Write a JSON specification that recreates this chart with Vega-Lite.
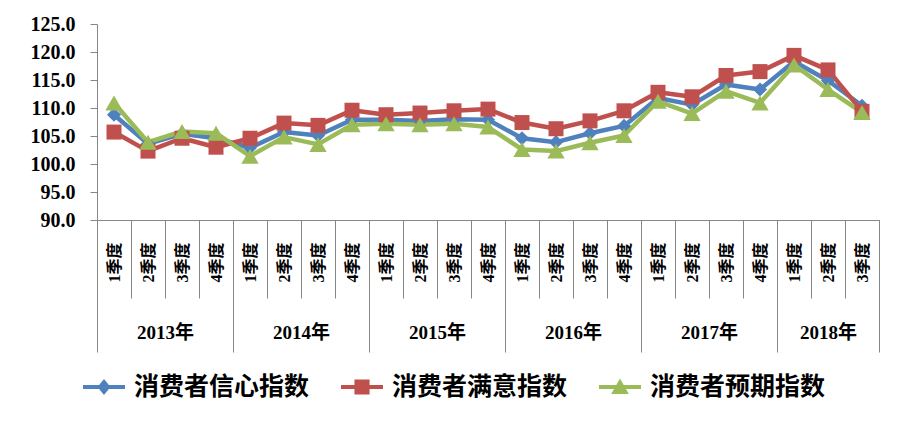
{
  "$schema": "https://vega.github.io/schema/vega-lite/v6.json",
  "width": 782,
  "height": 196,
  "autosize": {"type": "none"},
  "padding": {"left": 97, "top": 24, "right": 25, "bottom": 201},
  "background": "white",
  "config": {"view": {"stroke": null}},
  "datasets": {
    "idx": [
      {"q": "2013-1", "s": "消费者信心指数", "v": 108.8}, {"q": "2013-2", "s": "消费者信心指数", "v": 103.6}, {"q": "2013-3", "s": "消费者信心指数", "v": 105.4}, {"q": "2013-4", "s": "消费者信心指数", "v": 104.6},
      {"q": "2014-1", "s": "消费者信心指数", "v": 102.9}, {"q": "2014-2", "s": "消费者信心指数", "v": 105.7}, {"q": "2014-3", "s": "消费者信心指数", "v": 105.1}, {"q": "2014-4", "s": "消费者信心指数", "v": 107.9},
      {"q": "2015-1", "s": "消费者信心指数", "v": 107.9}, {"q": "2015-2", "s": "消费者信心指数", "v": 107.7}, {"q": "2015-3", "s": "消费者信心指数", "v": 108.0}, {"q": "2015-4", "s": "消费者信心指数", "v": 107.9},
      {"q": "2016-1", "s": "消费者信心指数", "v": 104.6}, {"q": "2016-2", "s": "消费者信心指数", "v": 103.9}, {"q": "2016-3", "s": "消费者信心指数", "v": 105.5}, {"q": "2016-4", "s": "消费者信心指数", "v": 106.8},
      {"q": "2017-1", "s": "消费者信心指数", "v": 111.8}, {"q": "2017-2", "s": "消费者信心指数", "v": 110.6}, {"q": "2017-3", "s": "消费者信心指数", "v": 114.2}, {"q": "2017-4", "s": "消费者信心指数", "v": 113.3},
      {"q": "2018-1", "s": "消费者信心指数", "v": 118.3}, {"q": "2018-2", "s": "消费者信心指数", "v": 114.9}, {"q": "2018-3", "s": "消费者信心指数", "v": 110.4},
      {"q": "2013-1", "s": "消费者满意指数", "v": 105.7}, {"q": "2013-2", "s": "消费者满意指数", "v": 102.3}, {"q": "2013-3", "s": "消费者满意指数", "v": 104.6}, {"q": "2013-4", "s": "消费者满意指数", "v": 103.0},
      {"q": "2014-1", "s": "消费者满意指数", "v": 104.6}, {"q": "2014-2", "s": "消费者满意指数", "v": 107.3}, {"q": "2014-3", "s": "消费者满意指数", "v": 106.9}, {"q": "2014-4", "s": "消费者满意指数", "v": 109.6},
      {"q": "2015-1", "s": "消费者满意指数", "v": 108.8}, {"q": "2015-2", "s": "消费者满意指数", "v": 109.1}, {"q": "2015-3", "s": "消费者满意指数", "v": 109.5}, {"q": "2015-4", "s": "消费者满意指数", "v": 109.8},
      {"q": "2016-1", "s": "消费者满意指数", "v": 107.4}, {"q": "2016-2", "s": "消费者满意指数", "v": 106.3}, {"q": "2016-3", "s": "消费者满意指数", "v": 107.7}, {"q": "2016-4", "s": "消费者满意指数", "v": 109.5},
      {"q": "2017-1", "s": "消费者满意指数", "v": 112.8}, {"q": "2017-2", "s": "消费者满意指数", "v": 112.0}, {"q": "2017-3", "s": "消费者满意指数", "v": 115.8}, {"q": "2017-4", "s": "消费者满意指数", "v": 116.5},
      {"q": "2018-1", "s": "消费者满意指数", "v": 119.4}, {"q": "2018-2", "s": "消费者满意指数", "v": 116.8}, {"q": "2018-3", "s": "消费者满意指数", "v": 109.4},
      {"q": "2013-1", "s": "消费者预期指数", "v": 110.9}, {"q": "2013-2", "s": "消费者预期指数", "v": 103.9}, {"q": "2013-3", "s": "消费者预期指数", "v": 105.8}, {"q": "2013-4", "s": "消费者预期指数", "v": 105.5},
      {"q": "2014-1", "s": "消费者预期指数", "v": 101.4}, {"q": "2014-2", "s": "消费者预期指数", "v": 104.8}, {"q": "2014-3", "s": "消费者预期指数", "v": 103.5}, {"q": "2014-4", "s": "消费者预期指数", "v": 107.0},
      {"q": "2015-1", "s": "消费者预期指数", "v": 107.2}, {"q": "2015-2", "s": "消费者预期指数", "v": 107.0}, {"q": "2015-3", "s": "消费者预期指数", "v": 107.2}, {"q": "2015-4", "s": "消费者预期指数", "v": 106.6},
      {"q": "2016-1", "s": "消费者预期指数", "v": 102.6}, {"q": "2016-2", "s": "消费者预期指数", "v": 102.3}, {"q": "2016-3", "s": "消费者预期指数", "v": 103.8}, {"q": "2016-4", "s": "消费者预期指数", "v": 105.1},
      {"q": "2017-1", "s": "消费者预期指数", "v": 111.2}, {"q": "2017-2", "s": "消费者预期指数", "v": 109.0}, {"q": "2017-3", "s": "消费者预期指数", "v": 113.0}, {"q": "2017-4", "s": "消费者预期指数", "v": 110.9},
      {"q": "2018-1", "s": "消费者预期指数", "v": 117.7}, {"q": "2018-2", "s": "消费者预期指数", "v": 113.3}, {"q": "2018-3", "s": "消费者预期指数", "v": 109.2}
    ]
  },
  "data": {"name": "idx"},
  "encoding": {
    "y": {
      "field": "v", "type": "quantitative",
      "scale": {"domain": [90, 125], "nice": false, "zero": false},
      "axis": {
        "title": null, "values": [90, 95, 100, 105, 110, 115, 120, 125], "format": ".1f", "grid": false,
        "labelOverlap": false, "labelBound": false, "ticks": true,
        "domainColor": "#868686", "tickColor": "#868686", "tickSize": 7, "labelPadding": 15,
        "labelFont": "Liberation Serif", "labelFontSize": 20, "labelFontWeight": "bold", "labelColor": "black"
      }
    }
  },
  "layer": [
    {
      "mark": {"type": "line", "strokeWidth": 4.5, "strokeJoin": "round"},
      "encoding": {
        "x": {
          "field": "q", "type": "ordinal",
          "scale": {"type": "band", "paddingInner": 0, "paddingOuter": 0},
          "axis": {
            "orient": "bottom", "title": null,
            "tickBand": "extent", "tickSize": 78, "tickColor": "#868686", "tickWidth": 1,
            "domainColor": "#868686", "domainWidth": 1,
            "labelAngle": 270, "labelAlign": "center", "labelBaseline": "middle",
            "labelPadding": -36, "labelOverlap": false, "labelBound": false,
            "labelExpr": "isString(datum.value) ? substring(datum.value, 5) + '季度' : ''",
            "labelFont": "Liberation Serif, Noto Sans CJK SC", "labelFontSize": 16, "labelFontWeight": "bold", "labelColor": "black"
          }
        },
        "color": {
          "field": "s", "type": "nominal",
          "scale": {"domain": ["消费者信心指数", "消费者满意指数", "消费者预期指数"], "range": ["#4F81BD", "#C0504D", "#9BBB59"]},
          "legend": {
            "orient": "none", "legendX": -14, "legendY": 342, "direction": "horizontal", "title": null, "padding": 0,
            "symbolSize": 1764, "symbolStrokeWidth": 0, "labelOffset": 9, "columnPadding": 31, "labelLimit": 400,
            "labelFont": "Noto Sans CJK SC", "labelFontSize": 25, "labelFontWeight": "bold", "labelColor": "black",
            "encode": {
              "symbols": {
                "update": {
                  "shape": {"signal": "datum.value == '消费者信心指数' ? 'M-1,-0.1L1,-0.1L1,0.1L-1,0.1Z M-0.31,0L0,-0.38L0.31,0L0,0.38Z' : datum.value == '消费者满意指数' ? 'M-1,-0.1L1,-0.1L1,0.1L-1,0.1Z M-0.36,-0.36L0.36,-0.36L0.36,0.36L-0.36,0.36Z' : 'M-1,-0.1L1,-0.1L1,0.1L-1,0.1Z M0,-0.4L0.42,0.33L-0.42,0.33Z'"},
                  "size": {"value": 1764},
                  "fill": {"scale": "color", "field": "value"},
                  "strokeWidth": {"value": 0},
                  "opacity": {"value": 1}
                }
              }
            }
          }
        }
      }
    },
    {
      "transform": [{"filter": "datum.s == '消费者信心指数'"}],
      "mark": {"type": "point", "shape": "diamond", "size": 200, "filled": true, "opacity": 1, "strokeWidth": 0},
      "encoding": {
        "x": {
          "field": "q", "type": "ordinal",
          "scale": {"type": "band", "paddingInner": 0, "paddingOuter": 0},
          "axis": {
            "orient": "bottom", "title": null, "domain": false,
            "tickBand": "extent", "tickSize": 132, "tickColor": "#868686", "tickWidth": 1,
            "tickOpacity": {"condition": {"test": "!isString(datum.value) || substring(datum.value, 5) == '4' || datum.value == '2018-3'", "value": 1}, "value": 0},
            "labelAngle": 0, "labelAlign": "center", "labelBaseline": "middle", "labelPadding": -20,
            "labelOverlap": false, "labelBound": false,
            "labelOffset": {"condition": {"test": "isString(datum.value) && substring(datum.value, 0, 4) == '2018'", "value": 0}, "value": 17},
            "labelExpr": "isString(datum.value) && substring(datum.value, 5) == '2' ? substring(datum.value, 0, 4) + '年' : ''",
            "labelFont": "Liberation Serif, Noto Sans CJK SC", "labelFontSize": 19, "labelFontWeight": "bold", "labelColor": "black"
          }
        },
        "color": {"field": "s", "type": "nominal"}
      }
    },
    {
      "transform": [{"filter": "datum.s == '消费者满意指数'"}],
      "mark": {"type": "point", "shape": "square", "size": 225, "filled": true, "opacity": 1, "strokeWidth": 0},
      "encoding": {
        "x": {"field": "q", "type": "ordinal", "axis": null},
        "color": {"field": "s", "type": "nominal"}
      }
    },
    {
      "transform": [{"filter": "datum.s == '消费者预期指数'"}],
      "mark": {"type": "point", "shape": "triangle-up", "size": 300, "filled": true, "opacity": 1, "strokeWidth": 0},
      "encoding": {
        "x": {"field": "q", "type": "ordinal", "axis": null},
        "color": {"field": "s", "type": "nominal"}
      }
    }
  ],
  "resolve": {"axis": {"x": "independent"}}
}
